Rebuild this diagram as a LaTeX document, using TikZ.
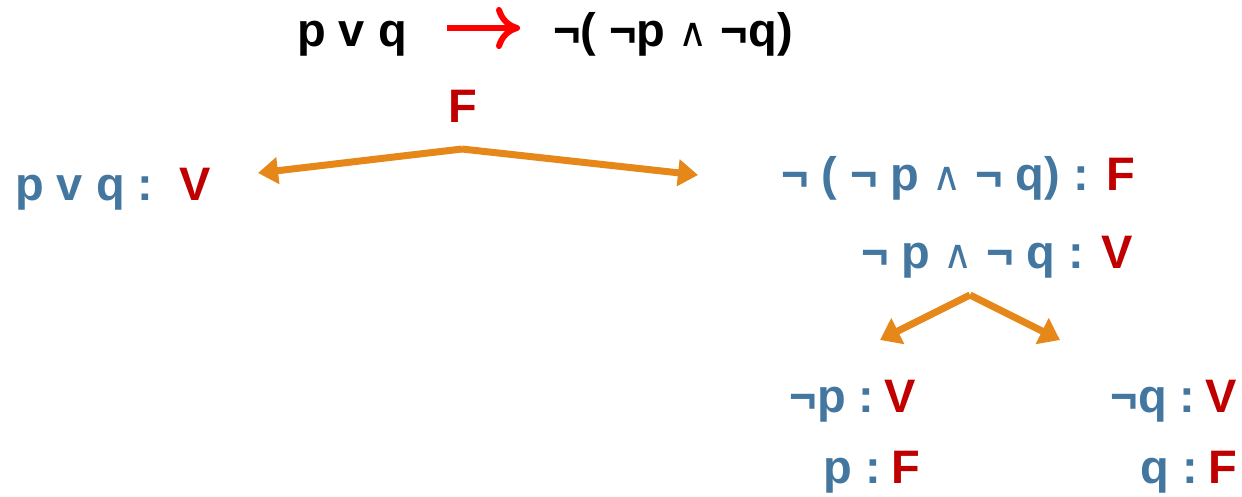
\documentclass[tikz,border=0pt]{standalone}
\usepackage{fontspec}
\setmainfont{Liberation Sans}
\newfontfamily\symfont{DejaVu Sans}
\usetikzlibrary{arrows.meta}
\definecolor{fblue}{RGB}{68,119,160}
\definecolor{fred}{RGB}{192,0,0}
\definecolor{forange}{RGB}{230,135,26}
\newcommand{\wedgesym}{{\symfont\mdseries\fontsize{40}{48}\selectfont ∧}}
\begin{document}
\begin{tikzpicture}[x=1pt,y=-1pt,
  txt/.style={inner sep=0pt,font=\fontsize{47}{56}\selectfont\bfseries},
  val/.style={text=fred},
  branch/.style={draw=forange,line width=7pt,-{Triangle[length=20pt,width=26pt]}},
  branchs/.style={draw=forange,line width=7pt,-{Triangle[length=20pt,width=28pt]}}]
\useasboundingbox (0,0) rectangle (1242,496);

% implication to be checked
\node[txt,anchor=base west] (lhs) at (297,46) {p v q};
\node[txt,anchor=base west] (rhs) at (553,46) {¬( ¬p \wedgesym{} ¬q)};
\coordinate (ra) at (447,28);
\coordinate (rb) at (520,28);
\draw[red,line width=6pt,-{To[length=24pt,width=42pt]}] (ra) -- (rb);

% assumed value
\node[txt,val,anchor=base] (f0) at (463,122) {F};
\coordinate (apex) at (462,149);
\node[txt,anchor=base west] (left) at (15,200) {\textcolor{fblue}{p v q :}\hspace{26pt}\textcolor{fred}{V}};
\node[txt,anchor=base east] (right) at (1135,190) {\textcolor{fblue}{¬ ( ¬ p \wedgesym{} ¬ q) :} \textcolor{fred}{F}};
\coordinate (lt) at (258,173);
\coordinate (rt) at (698,175);
\draw[branch] (apex) -- (lt);
\draw[branch] (apex) -- (rt);

% conjunction
\node[txt,anchor=base east] (conj) at (1133,268) {\textcolor{fblue}{¬ p \wedgesym{} ¬ q :} \textcolor{fred}{V}};
\coordinate (apex2) at (970,295);
\coordinate (l2) at (880,340);
\coordinate (r2) at (1060,340);
\draw[branchs] (apex2) -- (l2);
\draw[branchs] (apex2) -- (r2);

% conjuncts
\node[txt,anchor=base east] (np) at (916,412) {\textcolor{fblue}{¬p :}\hspace{10pt}\textcolor{fred}{V}};
\node[txt,anchor=base east] (nq) at (1237,412) {\textcolor{fblue}{¬q :}\hspace{10pt}\textcolor{fred}{V}};
\node[txt,anchor=base east] (p) at (920,483) {\textcolor{fblue}{p :}\hspace{10pt}\textcolor{fred}{F}};
\node[txt,anchor=base east] (q) at (1237,483) {\textcolor{fblue}{q :}\hspace{10pt}\textcolor{fred}{F}};
\end{tikzpicture}
\end{document}
